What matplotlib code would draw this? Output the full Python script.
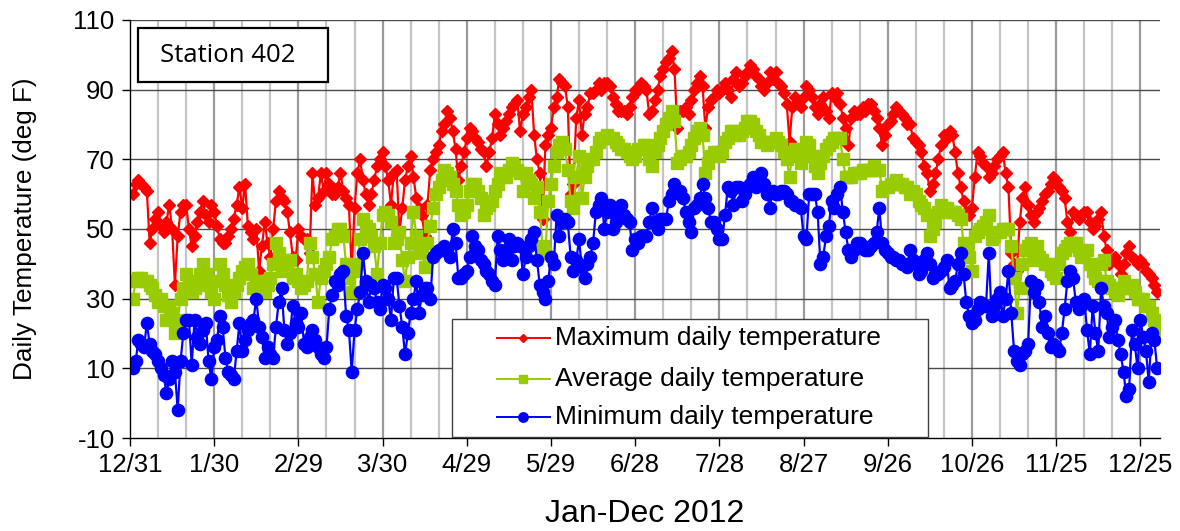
import matplotlib
matplotlib.use("Agg")
import matplotlib.pyplot as plt
from matplotlib.patches import Rectangle
from matplotlib.lines import Line2D

# ---------------- data (days counted from 12/31/2011) ----------------
days = list(range(1, 367))

max_temp = [
    60, 63, 64, 63, 62, 61, 46, 50, 53, 55,
    51, 49, 52, 57, 50, 34, 48, 55, 57, 57,
    50, 45, 48, 52, 55, 58, 54, 52, 57, 55,
    51, 47, 46, 46, 48, 50, 53, 57, 62, 56,
    63, 51, 49, 47, 50, 38, 45, 52, 46, 42,
    50, 58, 61, 59, 58, 55, 49, 42, 41, 50,
    48, 47, 47, 43, 66, 57, 59, 66, 61, 66,
    63, 60, 60, 62, 66, 61, 59, 57, 38, 56,
    66, 70, 64, 60, 57, 60, 64, 68, 70, 72,
    68, 64, 57, 66, 67, 49, 56, 64, 68, 71,
    65, 59, 56, 54, 48, 57, 67, 70, 72, 74,
    78, 80, 84, 82, 78, 73, 64, 68, 72, 76,
    79, 78, 76, 75, 73, 72, 68, 72, 76, 83,
    80, 77, 79, 81, 83, 85, 86, 87, 78, 83,
    85, 88, 90, 77, 70, 66, 53, 74, 77, 79,
    85, 88, 93, 92, 91, 85, 60, 63, 82, 87,
    77, 83, 85, 89, 89, 90, 92, 90, 92, 92,
    91, 88, 86, 84, 84, 84, 83, 85, 88, 90,
    90, 92, 91, 90, 83, 84, 87, 90, 94, 96,
    98, 99, 101, 96, 79, 84, 84, 85, 83, 87,
    90, 92, 94, 91, 79, 85, 87, 88, 90, 89,
    90, 92, 90, 88, 93, 95, 91, 92, 94, 95,
    97, 96, 94, 93, 91, 90, 92, 95, 93, 95,
    92, 91, 89, 86, 75, 85, 88, 86, 85, 88,
    91, 90, 88, 85, 83, 86, 88, 84, 82, 89,
    88, 89, 86, 82, 79, 74, 82, 84, 83, 83,
    85, 84, 86, 86, 84, 82, 79, 74, 77, 80,
    81, 83, 85, 84, 83, 82, 80, 80, 76, 75,
    74, 72, 68, 66, 61, 63, 66, 70, 74, 77,
    76, 78, 77, 72, 66, 62, 58, 55, 54, 56,
    65, 72, 71, 69, 68, 65, 66, 68, 70, 71,
    72, 66, 62, 43, 40, 38, 52, 59, 62, 57,
    54, 52, 55, 56, 58, 60, 61, 63, 65, 64,
    62, 61, 59, 52, 49, 55, 54, 53, 54, 55,
    55, 52, 50, 51, 53, 55, 48, 44, 40, 41,
    42, 40, 37, 40, 43, 45, 42, 41, 40, 41,
    40, 38, 37, 36, 34, 32,
]

avg_temp = [
    30, 35, 36, 36, 35, 35, 34, 33, 31, 29,
    30, 28, 24, 28, 26, 20, 24, 30, 33, 37,
    35, 32, 33, 34, 37, 40, 37, 34, 32, 30,
    35, 40, 37, 34, 31, 29, 32, 34, 36, 38,
    39, 40, 37, 33, 35, 35, 33, 32, 34, 36,
    40, 46, 43, 38, 41, 40, 41, 36, 37, 35,
    33, 34, 35, 46, 42, 37, 29, 36, 38, 40,
    42, 47, 48, 50, 50, 48, 40, 36, 32, 38,
    40, 47, 53, 51, 50, 48, 45, 37, 46, 54,
    55, 54, 52, 46, 47, 49, 41, 35, 42, 46,
    55, 48, 43, 45, 39, 46, 51, 56, 60, 62,
    64, 67, 66, 65, 63, 61, 57, 54, 55, 57,
    61, 63, 63, 61, 59, 54, 56, 57, 58, 61,
    63, 66, 65, 65, 67, 69, 68, 67, 66, 61,
    66, 64, 63, 59, 62, 55, 45, 43, 58, 63,
    68, 72, 74, 75, 73, 67, 58, 56, 65, 71,
    59, 65, 68, 70, 70, 72, 75, 76, 76, 77,
    76, 76, 75, 74, 73, 73, 72, 71, 70, 71,
    73, 73, 74, 74, 70, 68, 72, 74, 76, 78,
    80, 82, 84, 81, 69, 70, 71, 71, 72, 74,
    76, 78, 79, 77, 66, 69, 71, 72, 72, 71,
    72, 75, 76, 78, 78, 77, 77, 78, 79, 81,
    81, 80, 78, 77, 75, 75, 74, 75, 75, 76,
    75, 74, 72, 70, 65, 72, 73, 71, 69, 72,
    75, 74, 71, 68, 66, 69, 71, 73, 74, 75,
    76, 76, 76, 70, 65, 65, 65, 66, 66, 66,
    67, 67, 67, 67, 68, 67, 67, 61, 62, 62,
    63, 63, 64, 63, 63, 62, 62, 60, 61, 60,
    58, 57, 56, 54, 48, 50, 52, 55, 57, 56,
    56, 55, 55, 55, 54, 53, 46, 44, 42, 38,
    48, 49, 50, 51, 52, 54, 47, 48, 49, 49,
    50, 50, 50, 45, 36, 26, 33, 40, 44, 45,
    46, 41, 45, 42, 41, 40, 40, 38, 37, 36,
    40, 43, 44, 45, 46, 46, 46, 44, 42, 43,
    44, 40, 38, 36, 35, 40, 41, 35, 34, 33,
    32, 31, 33, 35, 33, 33, 34, 32, 30, 30,
    30, 28, 28, 26, 24, 20,
]

min_temp = [
    10, 12, 18, 17, 16, 23, 17, 15, 14, 12,
    10, 8, 3, 7, 12, 9, -2, 12, 20, 24,
    24, 11, 24, 19, 17, 21, 23, 12, 7, 16,
    18, 25, 22, 13, 9, 8, 7, 15, 23, 15,
    18, 21, 23, 24, 30, 22, 19, 13, 16, 14,
    13, 22, 29, 33, 21, 17, 20, 28, 23, 22,
    26, 17, 16, 19, 21, 18, 16, 14, 13, 16,
    27, 31, 35, 34, 37, 38, 25, 21, 9, 21,
    27, 32, 43, 35, 29, 34, 33, 29, 27, 34,
    33, 30, 24, 36, 36, 28, 22, 14, 20, 26,
    30, 35, 26, 31, 33, 33, 30, 42, 43, 44,
    44, 45, 44, 42, 50, 46, 36, 36, 37, 38,
    42, 48, 45, 44, 41, 40, 38, 37, 35, 34,
    48, 44, 41, 44, 47, 41, 45, 46, 45, 37,
    42, 45, 47, 49, 41, 34, 32, 30, 35, 42,
    40, 54, 48, 52, 53, 52, 42, 38, 41, 47,
    39, 36, 40, 42, 46, 55, 57, 59, 50, 55,
    57, 50, 52, 55, 57, 54, 53, 52, 44, 47,
    46, 48, 48, 48, 52, 56, 52, 50, 53, 53,
    53, 58, 60, 63, 61, 61, 59, 55, 52, 49,
    56, 57, 59, 63, 59, 56, 52, 52, 50, 47,
    47, 54, 62, 61, 57, 62, 62, 58, 60, 62,
    63, 65, 62, 64, 66, 63, 60, 56, 61, 60,
    60, 61, 61, 60, 58, 58, 57, 57, 56, 48,
    47, 60, 60, 60, 55, 40, 42, 48, 51, 58,
    56, 60, 62, 55, 49, 44, 42, 44, 46, 46,
    45, 44, 44, 45, 46, 49, 56, 46, 44, 43,
    42, 42, 41, 41, 40, 40, 39, 44, 41, 40,
    37, 38, 41, 43, 40, 36, 37, 37, 38, 39,
    41, 33, 34, 35, 40, 43, 37, 29, 25, 23,
    24, 27, 29, 28, 28, 43, 25, 28, 30, 32,
    25, 30, 38, 26, 15, 12, 11, 14, 15, 17,
    35, 32, 34, 29, 22, 25, 20, 16, 17, 16,
    15, 20, 27, 35, 38, 36, 29, 27, 28, 30,
    21, 14, 28, 20, 15, 33, 28, 26, 19, 22,
    24, 18, 14, 9, 2, 4, 21, 17, 10, 24,
    19, 15, 6, 20, 18, 10,
]

tick_days = [0, 30, 60, 90, 120, 150, 180, 210, 240, 270, 300, 330, 360]
tick_labels = ["12/31", "1/30", "2/29", "3/30", "4/29", "5/29", "6/28",
               "7/28", "8/27", "9/26", "10/26", "11/25", "12/25"]
minor_days = [d for d in range(10, 361, 10) if d % 30 != 0]
y_ticks = [-10, 10, 30, 50, 70, 90, 110]
series_labels = ["Maximum daily temperature", "Average daily temperature",
                 "Minimum daily temperature"]
station_label = "Station 402"
x_title = "Jan-Dec 2012"
y_title = "Daily Temperature (deg F)"

# ---------------- figure ----------------
plt.rcParams['font.family'] = ['Liberation Sans', 'DejaVu Sans']
plt.rcParams['axes.unicode_minus'] = False
W, H = 1180, 531
fig = plt.figure(figsize=(W / 100, H / 100), dpi=100)
L, R, T, B = 130, 1160, 20, 438
ax = fig.add_axes([L / W, 1 - B / H, (R - L) / W, (B - T) / H])
ax.set_xlim(0, 367)
ax.set_ylim(-10, 110)


def px(x, y):
    return ((x - L) / (R - L), (B - y) / (B - T))


# gridlines
for d in minor_days:
    ax.axvline(d, color='#c4c4c4', lw=1.6, zorder=0)
for d in tick_days[1:]:
    ax.axvline(d, color='#9a9a9a', lw=1.6, zorder=0)
for v in y_ticks[1:]:
    ax.axhline(v, color='#4a4a4a', lw=1.0, zorder=0.5)

colors = ['#ff0000', '#99cc00', '#0000ff']
markers = ['D', 's', 'o']
msizes = [6.4, 8.2, 8.8]
for vals, c, m, ms in zip([max_temp, avg_temp, min_temp], colors, markers, msizes):
    ax.plot(days, vals, color=c, lw=1.6, marker=m, ms=ms, mec=c, mfc=c, zorder=2)

for s in ['top', 'right']:
    ax.spines[s].set_visible(False)
for s in ['left', 'bottom']:
    ax.spines[s].set_color('black')
    ax.spines[s].set_linewidth(1.0)

ax.set_xticks(tick_days)
ax.set_xticklabels(tick_labels)
ax.set_yticks(y_ticks)
ax.tick_params(axis='both', direction='out', length=6, width=1.0, colors='black',
               labelsize=18.5, pad=5)
ax.set_xlabel(x_title, fontsize=23, labelpad=16)
ax.set_ylabel(y_title, fontsize=18.8, labelpad=26)

# station box
x0, y0 = px(138, 82)
x1, y1 = px(328, 28)
ax.add_patch(Rectangle((x0, y0), x1 - x0, y1 - y0, transform=ax.transAxes,
                       facecolor='white', edgecolor='black', lw=1.6, zorder=5,
                       clip_on=False))
tx, ty = px(228, 56)
ax.text(tx, ty, station_label, transform=ax.transAxes, ha='center', va='center',
        fontsize=18.5, family=['Open Sans', 'DejaVu Sans'], zorder=6)

# legend box
x0, y0 = px(452, 437)
x1, y1 = px(928, 319)
ax.add_patch(Rectangle((x0, y0), x1 - x0, y1 - y0, transform=ax.transAxes,
                       facecolor='white', edgecolor='#404040', lw=1.0, zorder=5,
                       clip_on=False))
rows = [338, 379, 417]
leg_ms = [4.4, 6.2, 6.8]
for lab, c, m, ms, ry in zip(series_labels, colors, markers, leg_ms, rows):
    lx0, ly = px(497, ry)
    lx1, _ = px(550, ry)
    mx, _ = px(523, ry)
    ax.add_line(Line2D([lx0, lx1], [ly, ly], transform=ax.transAxes, color=c,
                       lw=1.4, zorder=6, clip_on=False))
    ax.add_line(Line2D([mx], [ly], transform=ax.transAxes, color=c, marker=m,
                       ms=ms, mec=c, mfc=c, zorder=6, clip_on=False))
    tx, _ = px(555, ry)
    ax.text(tx, ly, lab, transform=ax.transAxes, ha='left', va='center',
            fontsize=19, zorder=6)

fig.savefig('out.png', dpi=100)
